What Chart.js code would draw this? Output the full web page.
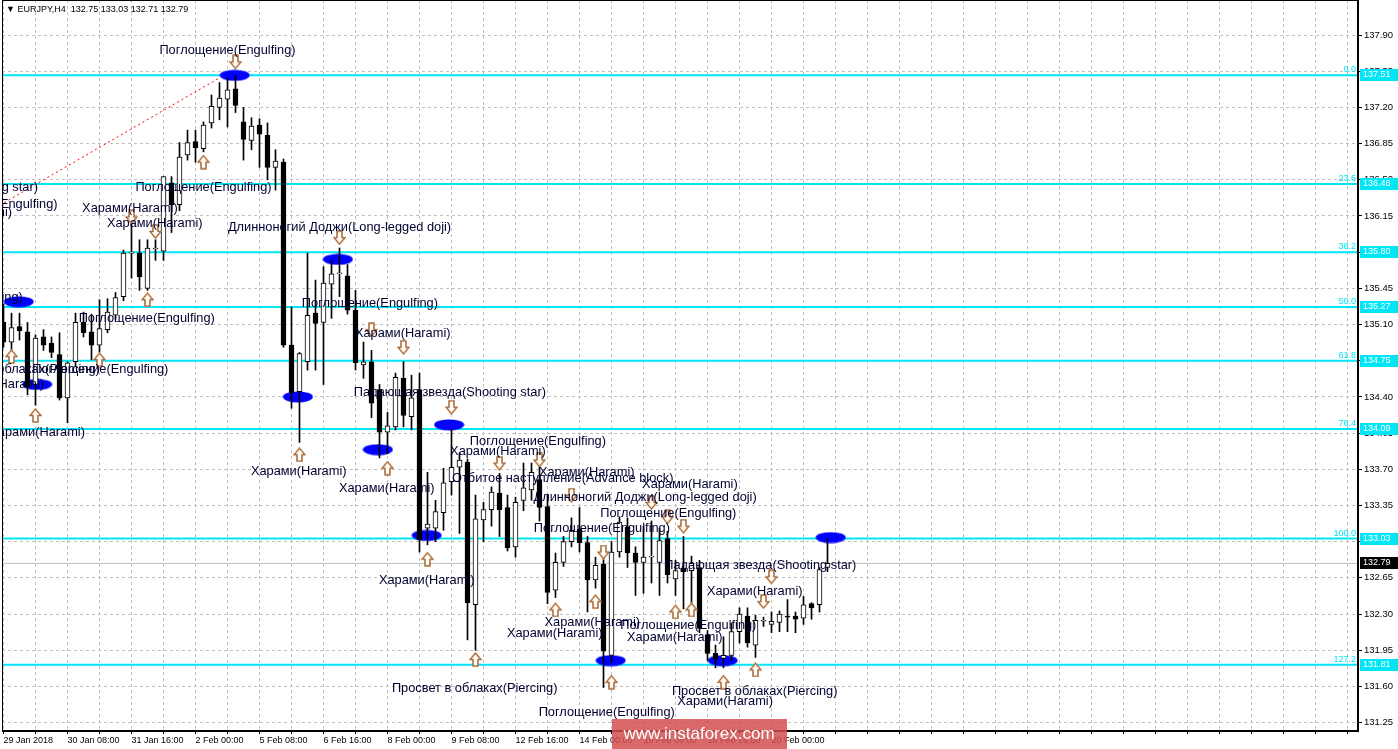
<!DOCTYPE html>
<html>
<head>
<meta charset="utf-8">
<script src="https://cdn.jsdelivr.net/npm/chart.js@4.4.1/dist/chart.umd.min.js"></script>
<style>
  html, body { margin: 0; padding: 0; background: #fff; }
  canvas { display: block; }
</style>
</head>
<body>
<canvas id="chart" width="1398" height="749"></canvas>
<script>
// EURJPY H4 candles, bar index 0 = 29 Jan 2018 00:00
const opens = [135.12,134.93,135.08,135.03,134.52,134.98,134.92,134.81,134.39,134.74,
  135.12,135.03,134.90,135.05,135.19,135.37,135.79,135.79,135.45,135.83,
  135.81,136.47,136.26,136.74,136.87,136.80,137.05,137.20,137.28,137.38,
  137.06,136.88,137.03,136.93,136.62,136.67,134.90,134.45,134.74,135.21,
  135.12,135.49,135.59,135.57,135.24,134.71,134.74,134.47,134.06,134.11,
  134.58,134.21,134.47,133.13,133.13,133.28,133.58,133.72,133.77,132.39,
  133.21,133.31,133.47,133.33,132.95,133.40,133.50,133.60,133.34,132.53,
  132.80,133.00,133.12,132.99,132.63,132.78,131.90,132.90,133.14,132.89,
  132.80,132.85,132.80,133.03,132.64,132.74,132.72,132.75,132.10,131.92,
  131.87,131.90,132.13,132.28,132.00,132.23,132.20,132.22,132.28,132.28,
  132.26,132.40,132.39,132.75];
const highs = [135.30,135.21,135.21,135.12,135.00,135.05,134.98,135.02,134.74,135.21,
  135.22,135.20,135.34,135.35,135.41,135.82,136.18,135.92,135.92,135.92,
  136.53,136.53,136.86,136.98,136.98,137.06,137.32,137.44,137.48,137.51,
  137.20,137.10,137.09,137.05,136.79,136.70,135.27,134.83,135.79,135.53,
  135.66,135.72,135.84,135.68,135.43,134.93,134.85,134.52,134.25,134.63,
  134.74,134.61,134.63,133.67,133.40,133.71,134.09,133.86,133.80,133.45,
  133.38,133.53,133.66,133.45,133.43,133.76,133.76,133.77,133.45,132.89,
  133.05,133.23,133.33,133.05,132.85,132.88,133.00,133.24,133.23,132.95,
  133.15,133.20,133.13,133.10,132.82,133.05,132.86,132.82,132.14,132.00,
  132.08,132.21,132.36,132.36,132.29,132.27,132.32,132.33,132.44,132.32,
  132.47,132.41,132.75,133.03];
const lows = [134.88,134.83,134.95,134.42,134.32,134.85,134.78,134.37,134.15,134.70,
  134.98,134.76,134.83,135.02,135.15,135.33,135.55,135.43,135.43,135.72,
  135.72,135.99,136.20,136.69,136.67,136.77,137.00,137.08,137.01,137.15,
  136.69,136.79,136.62,136.50,136.40,134.88,134.29,133.96,134.66,134.66,
  134.52,135.16,135.37,135.20,134.66,134.58,134.20,133.81,133.85,134.08,
  134.11,134.08,132.90,132.97,133.00,133.11,133.45,133.08,132.05,131.95,
  133.00,133.15,133.05,132.91,132.85,133.30,133.40,133.20,132.40,132.46,
  132.76,132.95,132.90,132.32,132.55,131.59,131.83,132.85,132.75,132.48,
  132.50,132.60,132.48,132.60,132.48,132.35,132.38,132.12,131.85,131.78,
  131.78,131.85,132.02,131.98,131.88,132.18,132.12,132.13,132.13,132.12,
  132.20,132.25,132.32,132.71];
const closes = [134.93,135.07,135.04,134.50,134.97,134.90,134.83,134.39,134.73,135.12,
  135.02,134.90,135.06,135.22,135.36,135.79,135.80,135.56,135.84,135.84,
  136.53,136.26,136.72,136.86,136.81,137.03,137.21,137.29,137.37,137.22,
  136.89,137.02,136.94,136.62,136.68,134.90,134.44,134.82,135.19,135.11,
  135.50,135.59,135.60,135.24,134.73,134.74,134.34,134.06,134.12,134.59,
  134.22,134.39,133.02,133.17,133.29,133.57,133.72,133.79,132.41,133.22,
  133.31,133.48,133.31,132.94,133.38,133.52,133.67,133.33,132.51,132.80,
  133.00,133.11,132.99,132.63,132.77,131.94,132.90,133.19,132.89,132.80,
  132.85,132.85,133.01,132.68,132.72,132.71,132.79,132.16,131.92,131.86,
  131.90,132.13,132.30,132.02,132.24,132.24,132.23,132.30,132.27,132.25,
  132.39,132.36,132.73,132.79];

// time labels, one every 8 bars
const dateLabels = ['29 Jan 2018','30 Jan 08:00','31 Jan 16:00','2 Feb 00:00','5 Feb 08:00',
  '6 Feb 16:00','8 Feb 00:00','9 Feb 08:00','12 Feb 16:00','14 Feb 00:00',
  '15 Feb 08:00','16 Feb 16:00','20 Feb 00:00'];
const yTicks = [131.25,131.60,131.95,132.30,132.65,133.00,133.35,133.70,134.05,134.40,
  134.75,135.10,135.45,135.80,136.15,136.50,136.85,137.20,137.55,137.90];

// fibonacci levels
const fibNames = ['0.0','23.6','38.2','50.0','61.8','76.4','100.0','127.2'];
const fibPrices = [137.51,136.46,135.80,135.27,134.75,134.09,133.03,131.81];
const lastPrice = 132.79;
const trendBars = [-1, 27.1];
const trendPrices = [136.23, 137.49];

// pattern markers
const ellipseBars = [28.9, 1.9, 4.2, 36.8, 41.8, 46.8, 55.7, 52.9, 75.9, 89.9, 103.4];
const ellipsePrices = [137.51, 135.32, 134.52, 134.40, 135.73, 133.89, 134.13, 133.06, 131.85, 131.85, 133.04];
const upBars = [25, 18, 12, 1, 4, 37, 48, 53, 59, 69, 74, 76, 84, 86, 90, 94];
const upPrices = [136.67,135.34,134.76,134.79,134.22,133.84,133.71,132.83,131.86,132.34,132.42,131.64,132.32,132.34,131.64,131.76];
const downBars = [29, 19, 16, 42, 46, 50, 56, 62, 67, 71, 75, 81, 83, 85, 95, 96];
const downPrices = [137.64,136.00,136.14,135.94,135.05,134.88,134.30,133.76,133.79,133.45,132.90,133.38,133.24,133.15,132.42,132.66];

const noteText = ['Поглощение(Engulfing)','Поглощение(Engulfing)','Падающая звезда(Shooting star)',
  'Поглощение(Engulfing)','Харами(Harami)','Харами(Harami)','Харами(Harami)',
  'Длинноногий Доджи(Long-legged doji)','Поглощение(Engulfing)','Поглощение(Engulfing)',
  'Поглощение(Engulfing)','Харами(Harami)','Просвет в облаках(Piercing)','Поглощение(Engulfing)',
  'Харами(Harami)','Падающая звезда(Shooting star)','Харами(Harami)','Поглощение(Engulfing)',
  'Харами(Harami)','Харами(Harami)','Харами(Harami)','Отбитое наступление(Advance block)',
  'Харами(Harami)','Харами(Harami)','Длинноногий Доджи(Long-legged doji)','Поглощение(Engulfing)',
  'Поглощение(Engulfing)','Падающая звезда(Shooting star)','Харами(Harami)','Харами(Harami)',
  'Харами(Harami)','Поглощение(Engulfing)','Харами(Harami)','Харами(Harami)',
  'Просвет в облаках(Piercing)','Просвет в облаках(Piercing)','Харами(Harami)','Поглощение(Engulfing)'];
const noteBar = [28, 25, -7.7, -1.75, -4.9, 15.8, 18.9, 42, -6.1, 45.8,
  17.9, 49.9, 1.7, 12.1, -0.9, 55.8, 4.2, 66.8, 36.9, 61.8,
  72.9, 69.9, 85.8, 47.9, 80.2, 83.1, 74.8, 94.6, 52.9, 93.9,
  73.6, 85.6, 68.9, 83.9, 58.9, 93.9, 90.2, 75.4];
const notePrice = [137.75, 136.43, 136.43, 136.26, 136.18, 136.22, 136.08, 136.04, 135.36, 135.30,
  135.16, 135.01, 134.67, 134.67, 134.52, 134.44, 134.06, 133.97, 133.68, 133.87,
  133.67, 133.61, 133.55, 133.51, 133.43, 133.27, 133.13, 132.77, 132.62, 132.52,
  132.22, 132.19, 132.11, 132.07, 131.58, 131.55, 131.45, 131.35];

const xMin = -0.1875, xMax = 169.3125;
const yMax = 138.2385, yMin = 131.1689;
const CYAN = '#00e6f5';
const FONT = '"Liberation Sans", Arial, sans-serif';

function makeEllipse() {
  const c = document.createElement('canvas');
  c.width = 31; c.height = 12;
  const g = c.getContext('2d');
  g.fillStyle = '#0000ff';
  g.beginPath();
  g.ellipse(15.5, 6, 15, 5.5, 0, 0, Math.PI * 2);
  g.fill();
  return c;
}

function makeArrow(up) {
  const c = document.createElement('canvas');
  c.width = 13; c.height = 15;
  const g = c.getContext('2d');
  if (!up) { g.translate(0, 15); g.scale(1, -1); }
  const shape = () => {
    g.beginPath();
    g.moveTo(6.5, 1); g.lineTo(12, 7.5); g.lineTo(9, 7.5); g.lineTo(9, 14);
    g.lineTo(4, 14); g.lineTo(4, 7.5); g.lineTo(1, 7.5); g.closePath();
  };
  shape();
  g.fillStyle = '#fff';
  g.fill();
  g.strokeStyle = '#e08a2a';
  g.lineWidth = 1.6;
  g.stroke();
  g.strokeStyle = 'rgba(40, 60, 160, 0.7)';
  g.lineWidth = 0.6;
  g.stroke();
  return c;
}

const bodies = opens.map((o, i) => ({ x: i, y: [Math.min(o, closes[i]), Math.max(o, closes[i])] }));
const wicks = highs.map((h, i) => ({ x: i, y: [lows[i], h] }));
const bodyColors = opens.map((o, i) => closes[i] >= o ? '#ffffff' : '#000000');

const fibSets = fibPrices.map(p => ({
  type: 'line',
  data: [{ x: xMin, y: p }, { x: xMax, y: p }],
  borderColor: CYAN, borderWidth: 2, pointRadius: 0, order: 20
}));

const notesPlugin = {
  id: 'notes',
  afterDatasetsDraw(chart) {
    const { ctx, chartArea: a, scales: { x, y } } = chart;
    ctx.save();
    ctx.beginPath();
    ctx.rect(a.left, a.top, a.right - a.left, a.bottom - a.top);
    ctx.clip();
    ctx.font = '12.8px ' + FONT;
    ctx.fillStyle = '#000030';
    ctx.textAlign = 'center';
    ctx.textBaseline = 'middle';
    noteText.forEach((t, i) => {
      ctx.fillText(t, x.getPixelForValue(noteBar[i]), y.getPixelForValue(notePrice[i]));
    });
    ctx.restore();
  },
  afterDraw(chart) {
    const { ctx, chartArea: a, scales: { y } } = chart;
    ctx.save();
    // frame
    ctx.strokeStyle = '#000';
    ctx.lineWidth = 1;
    ctx.strokeRect(a.left + 0.5, a.top + 0.5, a.right - a.left - 1, a.bottom - a.top - 1);

    // header
    ctx.font = '9px ' + FONT;
    ctx.fillStyle = '#000';
    ctx.textBaseline = 'middle';
    ctx.textAlign = 'left';
    ctx.fillText('▼ EURJPY,H4  132.75 133.03 132.71 132.79', 6, 10);

    // fib level names and price boxes
    fibPrices.forEach((p, i) => {
      const py = Math.round(y.getPixelForValue(p));
      ctx.font = '9px ' + FONT;
      ctx.fillStyle = CYAN;
      ctx.textAlign = 'right';
      ctx.textBaseline = 'bottom';
      ctx.fillText(fibNames[i], a.right - 2, py - 1);
      ctx.fillRect(a.right + 2, py - 6, 38, 12);
      ctx.fillStyle = '#fff';
      ctx.textAlign = 'left';
      ctx.textBaseline = 'middle';
      ctx.fillText(p.toFixed(2), a.right + 5, py);
    });
    const ly = Math.round(y.getPixelForValue(lastPrice));
    ctx.fillStyle = '#000';
    ctx.fillRect(a.right + 2, ly - 6, 38, 12);
    ctx.fillStyle = '#fff';
    ctx.font = '9px ' + FONT;
    ctx.fillText(lastPrice.toFixed(2), a.right + 5, ly);

    // watermark
    ctx.fillStyle = 'rgba(212, 80, 80, 0.85)';
    ctx.fillRect(612, 719, 175, 30);
    ctx.fillStyle = '#fff';
    ctx.font = '17px ' + FONT;
    ctx.textAlign = 'center';
    ctx.fillText('www.instaforex.com', 699, 734);
    ctx.restore();
  }
};

new Chart(document.getElementById('chart'), {
  type: 'bar',
  data: {
    datasets: [
      {
        type: 'scatter',
        data: upBars.map((b, i) => ({ x: b, y: upPrices[i] })),
        pointStyle: makeArrow(true), pointRadius: 6, order: 1
      },
      {
        type: 'scatter',
        data: downBars.map((b, i) => ({ x: b, y: downPrices[i] })),
        pointStyle: makeArrow(false), pointRadius: 6, order: 1
      },
      {
        data: bodies, backgroundColor: bodyColors, borderColor: '#000', borderWidth: 1,
        borderSkipped: false, barThickness: 5, minBarLength: 1, grouped: false, order: 4
      },
      {
        data: wicks, backgroundColor: '#000', borderWidth: 0,
        barThickness: 1, grouped: false, order: 5
      },
      {
        type: 'scatter',
        data: ellipseBars.map((b, i) => ({ x: b, y: ellipsePrices[i] })),
        pointStyle: makeEllipse(), pointRadius: 8, order: 8
      },
      {
        type: 'line',
        data: trendBars.map((b, i) => ({ x: b, y: trendPrices[i] })),
        borderColor: '#ff0000', borderWidth: 1, borderDash: [2, 3], pointRadius: 0, order: 9
      },
      {
        type: 'line',
        data: [{ x: xMin, y: lastPrice }, { x: xMax, y: lastPrice }],
        borderColor: '#c0c0c0', borderWidth: 1, pointRadius: 0, order: 19
      },
      ...fibSets
    ]
  },
  options: {
    responsive: false,
    animation: false,
    events: [],
    layout: { autoPadding: false, padding: { left: 2, top: 0, right: 0, bottom: 0 } },
    plugins: { legend: { display: false }, tooltip: { enabled: false } },
    scales: {
      x: {
        type: 'linear', min: xMin, max: xMax, offset: false,
        grid: { color: '#c0c0c0', offset: false, tickLength: 3, tickColor: '#000' },
        border: { display: true, color: '#000', dash: [3, 3] },
        afterBuildTicks(scale) {
          const t = [];
          for (let k = 0; k <= 168; k += 4) t.push({ value: k });
          scale.ticks = t;
        },
        afterFit(scale) {
          scale.height = 18;
          scale.paddingLeft = 0; scale.paddingRight = 0;
        },
        ticks: {
          autoSkip: false, maxRotation: 0, minRotation: 0, align: 'start', padding: 1,
          color: '#000', font: { family: FONT, size: 9 },
          callback: (v) => (v % 8 === 0 && dateLabels[v / 8]) ? dateLabels[v / 8] : ''
        }
      },
      y: {
        type: 'linear', position: 'right', min: yMin, max: yMax, beginAtZero: false,
        grid: { color: '#c0c0c0', tickLength: 4, tickColor: '#000' },
        border: { display: true, color: '#000', dash: [3, 3] },
        afterBuildTicks(scale) { scale.ticks = yTicks.map(v => ({ value: v })); },
        afterFit(scale) {
          scale.width = 40;
          scale.paddingTop = 0; scale.paddingBottom = 0;
        },
        ticks: {
          padding: 2, color: '#000', font: { family: FONT, size: 9.5 },
          callback: (v) => v.toFixed(2)
        }
      }
    }
  },
  plugins: [notesPlugin]
});
</script>
</body>
</html>
